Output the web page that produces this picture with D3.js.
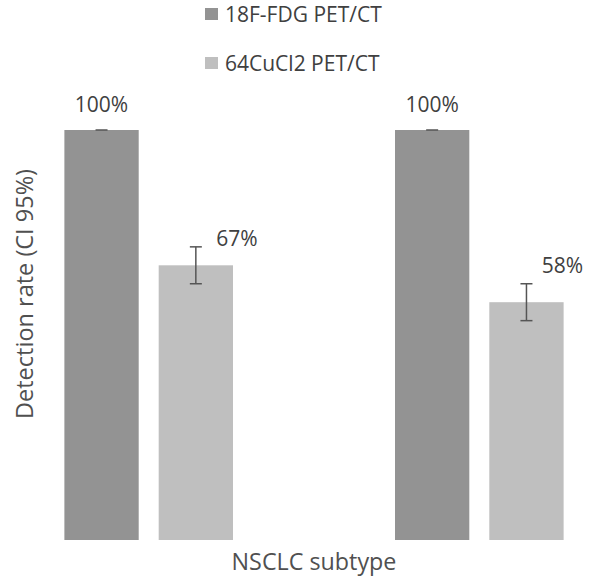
<!DOCTYPE html>
<html>
<head>
<meta charset="utf-8">
<script src="https://cdn.jsdelivr.net/npm/d3@7"></script>
<style>
  html, body { margin: 0; padding: 0; background: #fff; }
  svg { display: block; font-family: "Open Sans", sans-serif; }
</style>
</head>
<body>
<div id="chart"></div>
<script>
// data
const categories = ['Subtype 1', 'Subtype 2'];
const series = ['18F-FDG PET/CT', '64CuCl2 PET/CT'];
const fdgValues = [100, 100];
const cuValues = [67, 58];
const fdgErr = [0, 0];
const cuErr = [4.5, 4.5];

const W = 600, H = 586;
const colors = { '18F-FDG PET/CT': '#939393', '64CuCl2 PET/CT': '#bfbfbf' };

// label nudges (Excel-style manual placement) per series/category
const labelNudge = {
  '18F-FDG PET/CT': [[0, 0], [0, 0]],
  '64CuCl2 PET/CT': [[41, 17], [36, 7]]
};

const rows = categories.map((c, i) => ({
  cat: c,
  bars: [
    { s: series[0], v: fdgValues[i], e: fdgErr[i], i },
    { s: series[1], v: cuValues[i], e: cuErr[i], i }
  ]
}));

const svg = d3.select('#chart').append('svg')
  .attr('width', W).attr('height', H);

const y = d3.scaleLinear().domain([0, 100]).range([540, 130]);

const x0 = d3.scaleBand().domain(categories)
  .range([30, 598]).paddingInner(0.49).paddingOuter(0.104);

const x1 = d3.scaleBand().domain(series)
  .range([0, x0.bandwidth()]).paddingInner(0.212);

const g = svg.selectAll('g.grp')
  .data(rows)
  .join('g')
  .attr('class', 'grp')
  .attr('transform', d => `translate(${x0(d.cat)},0)`);

const bar = g.selectAll('g.bar')
  .data(d => d.bars)
  .join('g')
  .attr('class', 'bar');

bar.append('rect')
  .attr('x', d => x1(d.s))
  .attr('y', d => y(d.v))
  .attr('width', x1.bandwidth())
  .attr('height', d => y(0) - y(d.v))
  .attr('fill', d => colors[d.s]);

// error bars
const cx = d => x1(d.s) + x1.bandwidth() / 2;
const capW = 6;
const errCol = '#555';

bar.filter(d => d.e > 0).append('line')
  .attr('x1', cx).attr('x2', cx)
  .attr('y1', d => y(d.v + d.e)).attr('y2', d => y(d.v - d.e))
  .attr('stroke', errCol).attr('stroke-width', 1.5);

bar.append('line')
  .attr('x1', d => cx(d) - capW).attr('x2', d => cx(d) + capW)
  .attr('y1', d => y(d.v + d.e)).attr('y2', d => y(d.v + d.e))
  .attr('stroke', errCol).attr('stroke-width', 1.5);

bar.filter(d => d.e > 0).append('line')
  .attr('x1', d => cx(d) - capW).attr('x2', d => cx(d) + capW)
  .attr('y1', d => y(d.v - d.e)).attr('y2', d => y(d.v - d.e))
  .attr('stroke', errCol).attr('stroke-width', 1.5);

// value labels
bar.append('text')
  .attr('x', d => cx(d) + labelNudge[d.s][d.i][0])
  .attr('y', d => y(d.v + d.e) - 18 + labelNudge[d.s][d.i][1])
  .attr('text-anchor', 'middle')
  .attr('fill', '#404040')
  .style('font-size', '21px')
  .text(d => d.v + '%');

// legend
const legend = svg.append('g');
const li = legend.selectAll('g')
  .data(series)
  .join('g')
  .attr('transform', (d, i) => `translate(205,${8 + i * 49})`);

li.append('rect')
  .attr('width', 13).attr('height', 12)
  .attr('fill', d => colors[d]);

li.append('text')
  .attr('x', 20).attr('y', 14)
  .attr('fill', '#404040')
  .style('font-size', '21px')
  .text(d => d);

// axis titles
svg.append('text')
  .attr('x', 314).attr('y', 570)
  .attr('text-anchor', 'middle')
  .attr('fill', '#505050')
  .style('font-size', '23.3px')
  .text('NSCLC subtype');

svg.append('text')
  .attr('transform', 'translate(33,294) rotate(-90)')
  .attr('text-anchor', 'middle')
  .attr('fill', '#505050')
  .style('font-size', '23.5px')
  .text('Detection rate (CI 95%)');
</script>
</body>
</html>
